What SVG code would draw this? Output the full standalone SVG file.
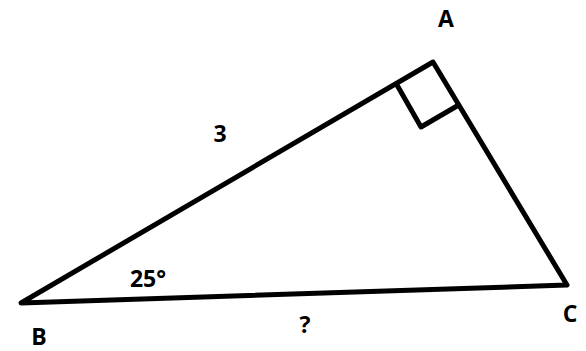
<svg xmlns="http://www.w3.org/2000/svg" width="586" height="351" viewBox="0 0 586 351">
<style>
.edge{fill:none;stroke:#000;stroke-width:5;stroke-linejoin:round;stroke-linecap:round}
.lbl{font-family:"Open Sans","Liberation Sans",sans-serif;font-weight:bold;font-size:23px;fill:#000;text-anchor:middle}
</style>
<rect width="586" height="351" fill="#fff"/>
<g id="connectors">
<polygon class="edge" points="21,303 433,62 567,285"/>
<polyline class="edge" points="397,85 421,127 457,106"/>
</g>
<g id="A"><text class="lbl" x="446" y="27">A</text></g>
<g id="B"><text class="lbl" x="39" y="345" font-size="22">B</text></g>
<g id="C"><text class="lbl" x="570" y="322">C</text></g>
<g id="label-3"><text class="lbl" x="220" y="142">3</text></g>
<g id="label-25"><text class="lbl" x="148" y="287">25°</text></g>
<g id="label-q"><text class="lbl" x="305" y="333">?</text></g>
</svg>
